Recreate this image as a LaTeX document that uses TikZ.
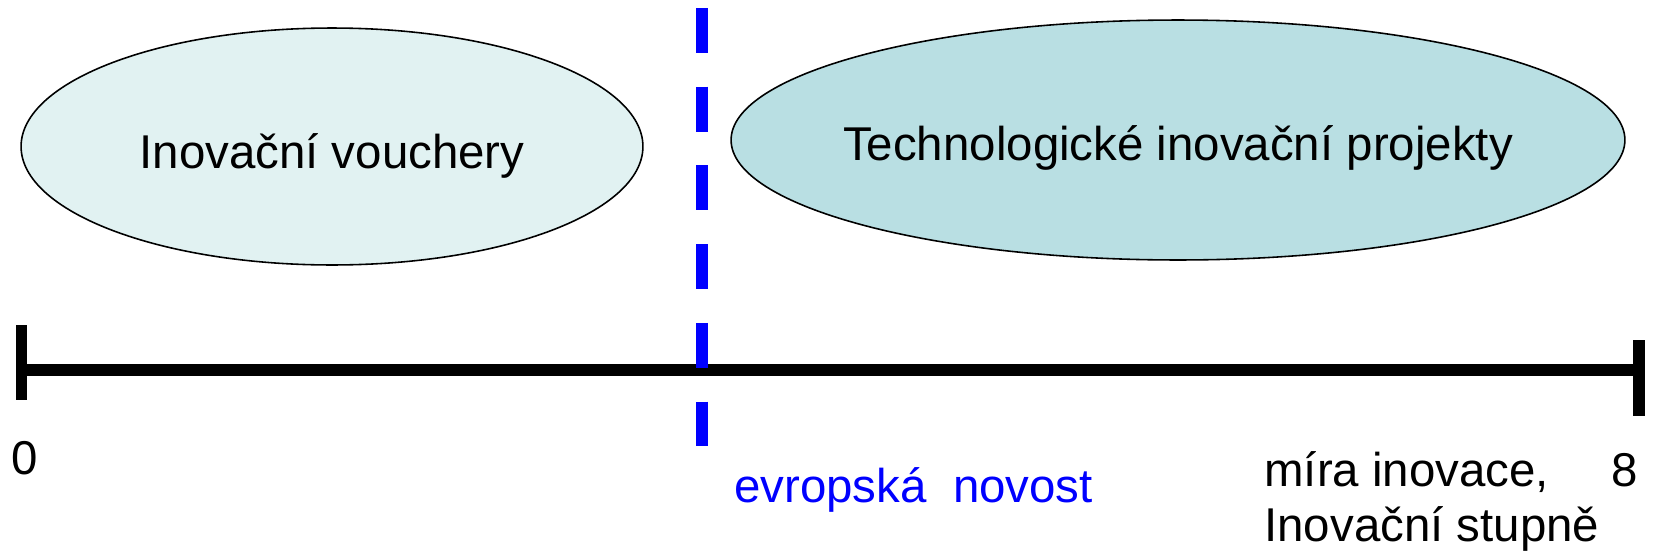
\documentclass[tikz,border=0pt]{standalone}
\usepackage{fontspec}
\setmainfont{Liberation Sans}
\usetikzlibrary{shapes.geometric,positioning}
\definecolor{voucherfill}{RGB}{225,242,242}
\definecolor{projectfill}{RGB}{185,223,227}
\definecolor{novostblue}{RGB}{0,0,255}
\begin{document}
\begin{tikzpicture}[x=0.02cm,y=-0.02cm,
    oval/.style={ellipse,draw=black,line width=0.9pt,inner sep=0pt},
    ovaltext/.style={inner sep=0pt,font=\fontsize{27}{32}\selectfont},
    lbl/.style={anchor=base west,inner sep=0pt,font=\fontsize{27}{32}\selectfont},
    axisline/.style={line width=6.8pt},
    tickmark/.style={line width=6.5pt}]
  \useasboundingbox (0,0) rectangle (1654,555);
  % ellipses
  \node[oval,fill=voucherfill,minimum width=12.44cm,minimum height=4.74cm] (v_oval) at (332,146.5) {};
  \node[oval,fill=projectfill,minimum width=17.88cm,minimum height=4.8cm] (p_oval) at (1178,140) {};
  \node[ovaltext] (v_text) at ([yshift=-0.19cm]v_oval.center) {Inovační vouchery};
  \node[ovaltext] (p_text) at ([yshift=-0.16cm]p_oval.center) {Technologické inovační projekty};
  % axis
  \coordinate (ax_l) at (21.5,370);
  \coordinate (ax_r) at (1639,370);
  \draw[axisline] (ax_l) -- (ax_r);
  \draw[tickmark] (21.5,325) -- (21.5,400);
  \draw[tickmark] (1639,340) -- (1639,416);
  % boundary
  \draw[novostblue,line width=6.8pt,dash pattern=on 25.5pt off 19.3pt] (702,8) -- (702,448);
  % labels
  \node[lbl] (zero) at (11,474) {0};
  \node[lbl,text=novostblue] (novost) at (734,502) {evropská\ \ novost};
  \node[lbl] (mira) at (1264,486) {míra inovace,};
  \node[lbl] (stupne) at (1264,541) {Inovační stupně};
  \node[lbl] (eight) at (1611,486) {8};
\end{tikzpicture}
\end{document}
